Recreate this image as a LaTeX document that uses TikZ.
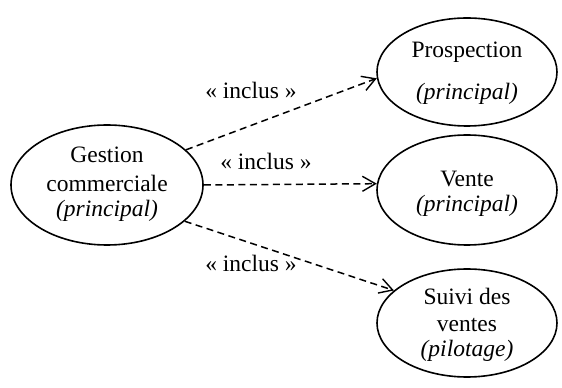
\documentclass[tikz,border=0pt]{standalone}
\usepackage{fontspec}
\setmainfont{Liberation Serif}
\usetikzlibrary{shapes.geometric,arrows.meta}
\begin{document}
\begin{tikzpicture}[x=1pt,y=1pt,
  uc/.style={draw,ellipse,line width=1.6pt,inner sep=0pt},
  txt/.style={anchor=base,inner sep=0pt,font=\fontsize{23.5}{27}\selectfont},
  incl/.style={draw,dashed,dash pattern=on 7pt off 4.5pt,line width=1.5pt,
    -{Straight Barb[length=13pt,width=15pt,line width=1.4pt]}}]
\useasboundingbox (0,0) rectangle (562,388);
\node[uc,minimum width=192pt,minimum height=120pt] (g) at (107,203) {};
\node[uc,minimum width=180pt,minimum height=108pt] (p) at (467,316) {};
\node[uc,minimum width=180pt,minimum height=110pt] (v) at (467,198) {};
\node[uc,minimum width=180pt,minimum height=108pt] (s) at (467,65) {};
% texts
\node[txt] (g1) at (107,225) {Gestion};
\node[txt] (g2) at (107,196) {commerciale};
\node[txt] (g3) at (107,171) {\itshape (principal)};
\node[txt] (p1) at (467,330) {Prospection};
\node[txt] (p2) at (467,288) {\itshape (principal)};
\node[txt] (v1) at (467,201) {Vente};
\node[txt] (v2) at (467,176) {\itshape (principal)};
\node[txt] (s1) at (467,83) {Suivi des};
\node[txt] (s2) at (467,56) {ventes};
\node[txt] (s3) at (467,31) {\itshape (pilotage)};
% connectors
\draw[incl] (g.24) -- (p.184);
\draw[incl] (g.0) -- (v.176);
\draw[incl] (g.-25) -- (s.156);
\node[txt] (l1) at (251,289) {« inclus »};
\node[txt] (l2) at (266,218) {« inclus »};
\node[txt] (l3) at (251,116) {« inclus »};
\end{tikzpicture}
\end{document}
